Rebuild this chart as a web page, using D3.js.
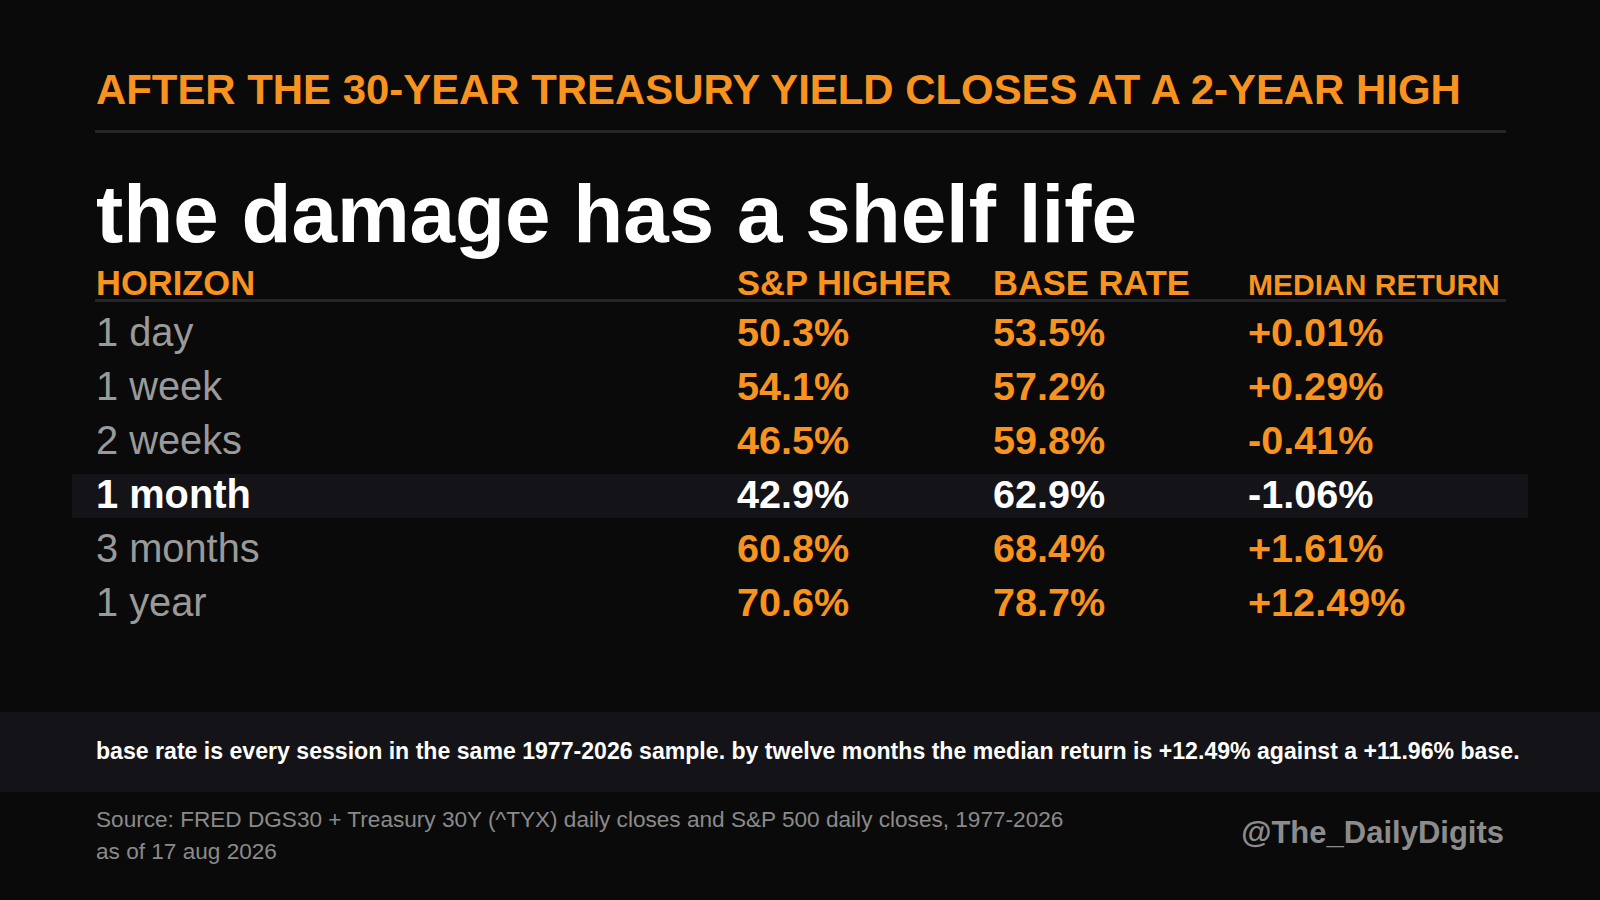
<!DOCTYPE html>
<html>
<head>
<meta charset="utf-8">
<script src="https://cdn.jsdelivr.net/npm/d3@7"></script>
<style>
  html, body { margin: 0; padding: 0; background: #0a0a0a; }
  svg { display: block; }
  text { font-family: "Liberation Sans", Arial, sans-serif; }
</style>
</head>
<body>
<div id="chart"></div>
<script>
// table data
const horizons = ['1 day', '1 week', '2 weeks', '1 month', '3 months', '1 year'];
const spHigher = [50.3, 54.1, 46.5, 42.9, 60.8, 70.6];
const baseRate = [53.5, 57.2, 59.8, 62.9, 68.4, 78.7];
const medianReturn = [0.01, 0.29, -0.41, -1.06, 1.61, 12.49];
const columns = ['HORIZON', 'S&P HIGHER', 'BASE RATE', 'MEDIAN RETURN'];
const highlightRow = '1 month';

const W = 1600, H = 900;
const ORANGE = '#f7931e';
const GREY = '#9a9a9a';
const PANEL = '#141418';
const RULE = '#25252a';
const left = 96, right = 1506;

const svg = d3.select('#chart').append('svg')
  .attr('width', W)
  .attr('height', H);

svg.append('rect')
  .attr('width', W)
  .attr('height', H)
  .attr('fill', '#0a0a0a');

// kicker + rule
svg.append('text')
  .attr('x', left)
  .attr('y', 104)
  .attr('fill', ORANGE)
  .style('font-size', '41.9px')
  .style('font-weight', 'bold')
  .text('AFTER THE 30-YEAR TREASURY YIELD CLOSES AT A 2-YEAR HIGH');

svg.append('rect')
  .attr('x', 95)
  .attr('y', 130)
  .attr('width', right - 95)
  .attr('height', 3)
  .attr('fill', RULE);

// headline
svg.append('text')
  .attr('x', left)
  .attr('y', 241.5)
  .attr('fill', '#ffffff')
  .style('font-size', '81.8px')
  .style('font-weight', 'bold')
  .text('the damage has a shelf life');

// scales
const x = d3.scaleOrdinal()
  .domain(columns)
  .range([left, 737, 993, 1248]);

const y = d3.scaleBand()
  .domain(horizons)
  .range([312, 312 + 54 * horizons.length]);

const rows = horizons.map((h, i) => ({
  horizon: h,
  values: [
    spHigher[i].toFixed(1) + '%',
    baseRate[i].toFixed(1) + '%',
    (medianReturn[i] >= 0 ? '+' : '-') + Math.abs(medianReturn[i]).toFixed(2) + '%'
  ]
}));

// highlight band behind the 1 month row
svg.append('rect')
  .attr('x', 72)
  .attr('y', y(highlightRow))
  .attr('width', 1528 - 72)
  .attr('height', 44)
  .attr('fill', PANEL);

// header row
const headSize = 34.5;
const headers = svg.append('g').attr('class', 'headers');
headers.selectAll('text')
  .data(columns)
  .enter().append('text')
  .attr('x', d => x(d))
  .attr('y', 295)
  .attr('fill', ORANGE)
  .style('font-size', headSize + 'px')
  .style('font-weight', 'bold')
  .text(d => d)
  .each(function(d) {
    // shrink a header that would run past the table edge
    const avail = right - 6 - x(d);
    const len = this.getComputedTextLength();
    if (len > avail) d3.select(this).style('font-size', (headSize * avail / len) + 'px');
  });

svg.append('rect')
  .attr('x', 95)
  .attr('y', 299)
  .attr('width', right - 95)
  .attr('height', 3)
  .attr('fill', RULE);

// body rows
const row = svg.selectAll('.row')
  .data(rows)
  .enter().append('g')
  .attr('class', 'row')
  .attr('transform', d => `translate(0,${y(d.horizon) + 33.5})`);

row.append('text')
  .attr('x', x(columns[0]))
  .attr('fill', d => d.horizon === highlightRow ? '#ffffff' : GREY)
  .style('font-size', '39.8px')
  .style('font-weight', d => d.horizon === highlightRow ? 'bold' : 'normal')
  .text(d => d.horizon);

row.selectAll('.val')
  .data(d => d.values.map((v, j) => ({ v, col: columns[j + 1], hi: d.horizon === highlightRow })))
  .enter().append('text')
  .attr('class', 'val')
  .attr('x', d => x(d.col))
  .attr('fill', d => d.hi ? '#ffffff' : ORANGE)
  .style('font-size', '39.6px')
  .style('font-weight', 'bold')
  .text(d => d.v);

// note band
svg.append('rect')
  .attr('x', 0)
  .attr('y', 712)
  .attr('width', W)
  .attr('height', 80)
  .attr('fill', PANEL);

svg.append('text')
  .attr('x', left)
  .attr('y', 759)
  .attr('fill', '#ffffff')
  .style('font-size', '23.1px')
  .style('font-weight', 'bold')
  .text('base rate is every session in the same 1977-2026 sample. by twelve months the median return is +12.49% against a +11.96% base.');

// source + handle
const src = svg.append('text')
  .attr('fill', '#8a8a8a')
  .style('font-size', '22.6px');
src.append('tspan')
  .attr('x', left)
  .attr('y', 827)
  .text('Source: FRED DGS30 + Treasury 30Y (^TYX) daily closes and S&P 500 daily closes, 1977-2026');
src.append('tspan')
  .attr('x', left)
  .attr('y', 859)
  .text('as of 17 aug 2026');

svg.append('text')
  .attr('x', 1504)
  .attr('y', 843)
  .attr('text-anchor', 'end')
  .attr('fill', '#8c8c8c')
  .style('font-size', '31px')
  .style('font-weight', 'bold')
  .text('@The_DailyDigits');
</script>
</body>
</html>
